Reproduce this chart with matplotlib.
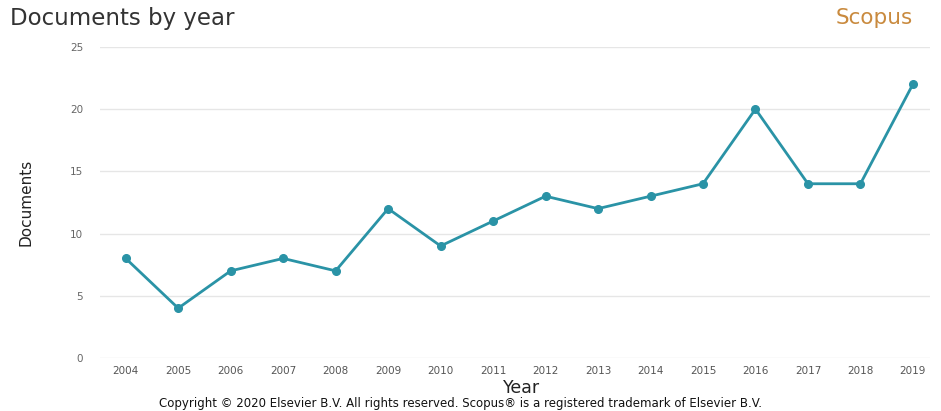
import matplotlib.pyplot as plt

years = list(range(2004, 2020))
docs = [8, 4, 7, 8, 7, 12, 9, 11, 13, 12, 13, 14, 20, 14, 14, 22]
yticks = [0, 5, 10, 15, 20, 25]

fig = plt.figure(figsize=(9.41, 4.11), dpi=100)
ax = fig.add_axes([0.106, 0.129, 0.882, 0.757])

ax.plot(years, docs, color='#2a93a6', lw=2, marker='o', markersize=5.5, clip_on=False, zorder=3)

ax.set_xlim(2003.505, 2019.32)
ax.set_ylim(0, 25)
ax.set_xticks(years)
ax.set_yticks(yticks)
ax.tick_params(axis='both', length=0, labelsize=7.5, colors='#555555')
ax.tick_params(axis='y', pad=12, colors='#666666')
ax.tick_params(axis='x', pad=6)
ax.grid(axis='y', color='#e6e6e6', lw=1)
ax.set_axisbelow(True)
for s in ax.spines.values():
    s.set_visible(False)

ax.set_ylabel('Documents', fontsize=11, color='#222222', labelpad=26)
fig.text(0.554, 0.055, 'Year', fontsize=12.5, color='#222222', ha='center', va='center')
fig.text(0.489, 0.018, 'Copyright \u00a9 2020 Elsevier B.V. All rights reserved. Scopus\u00ae is a registered trademark of Elsevier B.V.',
         fontsize=8.5, color='#111111', ha='center', va='center')

fig.text(0.011, 0.955, 'Documents by year', fontsize=16.5, color='#333333', ha='left', va='center')
fig.text(0.929, 0.955, 'Scopus', fontsize=15.5, color='#c98a3e', ha='center', va='center')

fig.savefig('out.png', dpi=100)
